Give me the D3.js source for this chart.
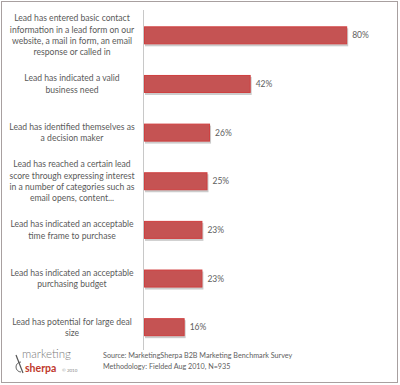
<!DOCTYPE html>
<html><head><meta charset="utf-8">
<script src="https://cdn.jsdelivr.net/npm/d3@7"></script>
<style>body{margin:0;background:#fff}svg{display:block}</style>
</head><body>
<svg id="c" width="400" height="385"></svg>
<script>
const categories = [
  ["Lead has entered basic contact","information in a lead form on our","website, a mail in form, an email","response or called in"],
  ["Lead has indicated a valid","business need"],
  ["Lead has identified themselves as","a decision maker"],
  ["Lead has reached a certain lead","score through expressing interest","in a number of categories such as","email opens, content..."],
  ["Lead has indicated an acceptable","time frame to purchase"],
  ["Lead has indicated an acceptable","purchasing budget"],
  ["Lead has potential for large deal","size"]
];
const values = [80, 42, 26, 25, 23, 23, 16];
const valueLabels = ["80%","42%","26%","25%","23%","23%","16%"];
const sourceLines = ["Source: MarketingSherpa B2B Marketing Benchmark Survey","Methodology: Fielded Aug 2010, N=935"];

const svg = d3.select("#c");
svg.append("rect").attr("x",1.5).attr("y",1.5).attr("width",396).attr("height",381)
  .attr("fill","#fff").attr("stroke","#a8a0a0").attr("stroke-width",1);

const idx = d3.range(categories.length);
const y = d3.scaleBand().domain(idx).range([11, 351.5]).paddingInner(0.63).paddingOuter(0.315);
const x = d3.scaleLinear().domain([0, 100]).range([144, 398]);

svg.append("line").attr("x1",143.5).attr("x2",143.5).attr("y1",10).attr("y2",350)
  .attr("stroke","#c8c8c8").attr("stroke-width",1);

const g = svg.append("g");
g.selectAll("rect.sh").data(idx).join("rect").attr("class","sh")
  .attr("x", x(0)+1).attr("y", d=>y(d)+2)
  .attr("width", d=>x(values[d])-x(0)).attr("height", y.bandwidth())
  .attr("fill","#cccccc");
g.selectAll("rect.bar").data(idx).join("rect").attr("class","bar")
  .attr("x", x(0)+0.5).attr("y", d=>y(d)+0.5)
  .attr("width", d=>x(values[d])-x(0)-1).attr("height", y.bandwidth()-1)
  .attr("fill","#c55353").attr("stroke","#cf3f3f").attr("stroke-width",1);

g.selectAll("text.val").data(idx).join("text").attr("class","val")
  .attr("x", d=>x(values[d])+5).attr("y", d=>y(d)+y.bandwidth()/2)
  .attr("dy","0.35em").attr("font-family","Lato, sans-serif").attr("font-size",8.5)
  .attr("fill","#606060").text(d=>valueLabels[d]);

const lh = 11.3;
idx.forEach(i=>{
  const lines = categories[i];
  const cy = y(i)+y.bandwidth()/2;
  const t = svg.append("text").attr("font-family","Lato, sans-serif").attr("font-size",8.6)
    .attr("fill","#5a5a5a").attr("text-anchor","middle");
  lines.forEach((s,k)=>{
    t.append("tspan").attr("x",72).attr("y", cy + (k-(lines.length-1)/2)*lh).attr("dy","0.35em").text(s);
  });
});

sourceLines.forEach((s,k)=>{
  svg.append("text").attr("x",103).attr("y",355+k*11.5).attr("dy","0.35em")
    .attr("font-family","Lato, sans-serif").attr("font-size",7.2).attr("fill","#606060").text(s);
});

const lg = svg.append("g");
lg.append("text").attr("x",22).attr("y",358).attr("font-family","Lato, sans-serif")
  .attr("font-weight",300).attr("font-size",11.5).attr("fill","#7a7a7a").text("marketing");
lg.append("text").attr("x",25).attr("y",372).attr("font-family","Lato, sans-serif")
  .attr("font-weight",700).attr("font-size",10.5).attr("fill","#c0392b").text("sherpa");
lg.append("text").attr("x",62).attr("y",371.5).attr("font-family","Lato, sans-serif")
  .attr("font-size",4.5).attr("fill","#888").text("© 2010");
lg.append("path").attr("d","M21,362 A5,5 0 1 0 21,372").attr("fill","none").attr("stroke","#666").attr("stroke-width",1);
lg.append("path").attr("d","M16,355 L23,373").attr("fill","none").attr("stroke","#555").attr("stroke-width",1.2);
</script>
</body></html>
